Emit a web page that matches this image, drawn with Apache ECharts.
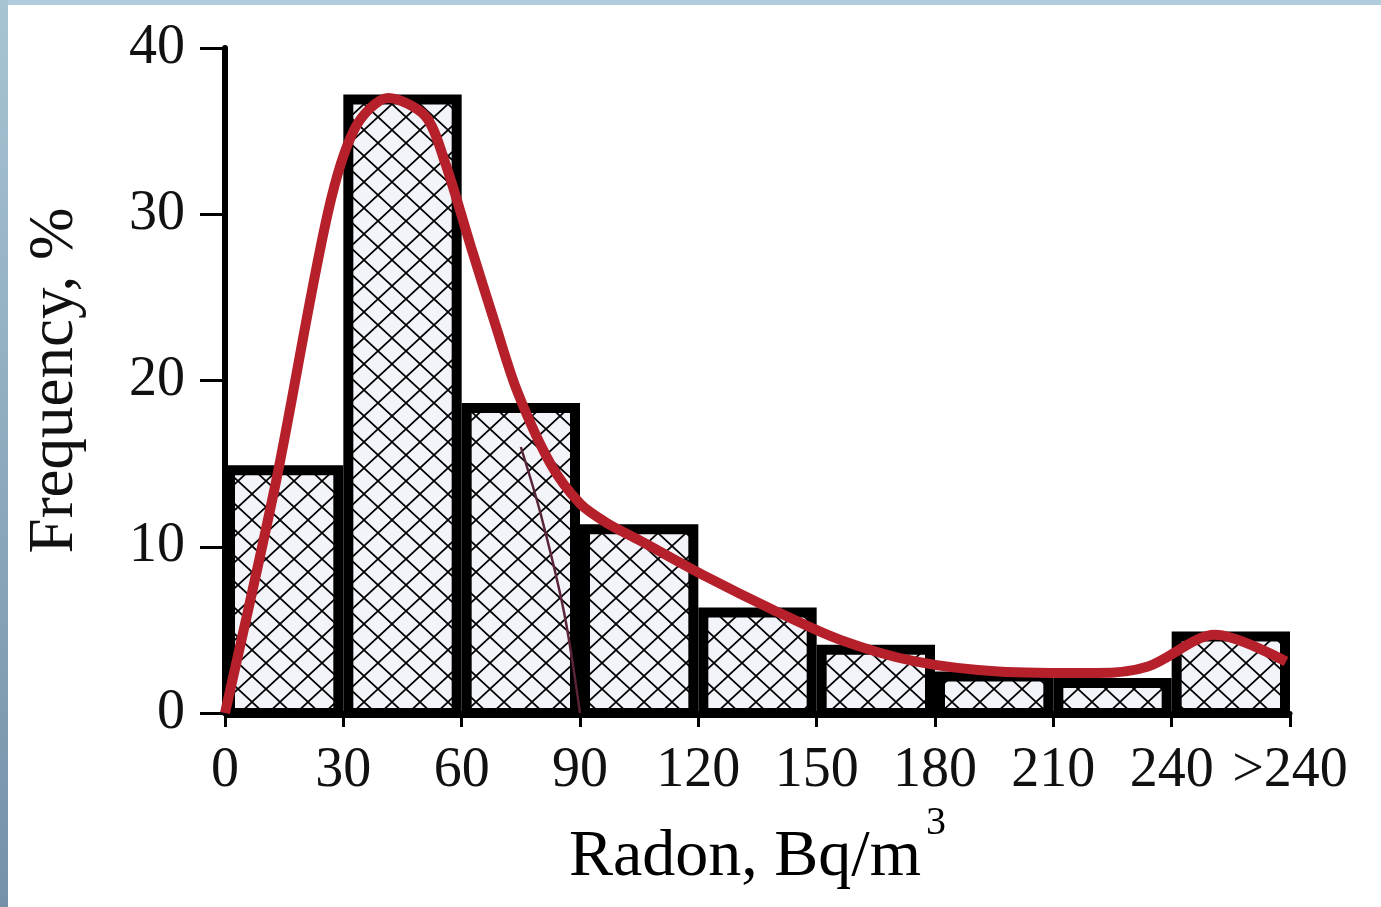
<!DOCTYPE html>
<html>
<head>
<meta charset="utf-8">
<script src="https://cdn.jsdelivr.net/npm/echarts@6/dist/echarts.min.js"></script>
<style>
html,body{margin:0;padding:0;background:#fff;}
#chart{width:1381px;height:907px;}
</style>
</head>
<body>
<div id="chart"></div>
<script>
// ---- data ----
var binStart = [0, 30, 60, 90, 120, 150, 180, 210, 240];
var binEnd   = [30, 60, 90, 120, 150, 180, 210, 240, 270];
var frequency = [14.6, 36.9, 18.35, 11.05, 6.05, 3.8, 2.2, 1.8, 4.6];
var xTickValues = [0, 30, 60, 90, 120, 150, 180, 210, 240, 270];
var xTickLabels = ['0', '30', '60', '90', '120', '150', '180', '210', '240', '>240'];
var curveX = [0, 13, 26, 33, 41.4, 50.8, 55.8, 62.4, 68.5, 74, 82.5, 90, 97, 105, 122, 139, 156, 175, 196, 221, 234, 251, 269];
var curveY = [0, 14, 30, 35.2, 37.0, 35.9, 33.1, 28, 23.4, 19.4, 15, 12.6, 11.4, 10.4, 8.2, 6.2, 4.4, 3.1, 2.5, 2.4, 2.8, 4.7, 3.1];
var thinX = [75, 80, 86, 90];
var thinY = [16, 12, 6, 0];

// ---- hatch pattern ----
var TW = 28, TH = 26;
var tile = document.createElement('canvas');
tile.width = TW; tile.height = TH;
var g = tile.getContext('2d');
g.fillStyle = '#f2f4fa';
g.fillRect(0, 0, TW, TH);
g.strokeStyle = '#000';
g.lineWidth = 1.7;
g.beginPath();
g.moveTo(0, TH); g.lineTo(TW, 0);
g.moveTo(0, 0); g.lineTo(TW, TH);
g.stroke();
var hatch = { image: tile, repeat: 'repeat' };

var barData = binStart.map(function (s, i) { return [s, binEnd[i], frequency[i]]; });
var curveData = curveX.map(function (x, i) { return [x, curveY[i]]; });
var thinData = thinX.map(function (x, i) { return [x, thinY[i]]; });
var labelMap = {};
xTickValues.forEach(function (v, i) { labelMap[v] = xTickLabels[i]; });

var chart = echarts.init(document.getElementById('chart'), null, { renderer: 'canvas' });
var serif = '"Liberation Serif", "Times New Roman", serif';

chart.setOption({
  backgroundColor: '#ffffff',
  animation: false,
  graphic: [
    { type: 'rect', left: 0, top: 0, shape: { width: 1381, height: 5 }, style: { fill: '#afcddc' }, z: 100 },
    { type: 'rect', left: 0, top: 0, shape: { width: 8, height: 907 },
      style: { fill: new echarts.graphic.LinearGradient(0, 0, 0, 1, [
        { offset: 0, color: '#a7c4d4' }, { offset: 1, color: '#7591a8' }]) }, z: 100 }
  ],
  grid: { left: 225, right: 91, top: 48, bottom: 194, containLabel: false },
  xAxis: {
    type: 'value', min: 0, max: 270, interval: 30,
    name: '{a|Radon, Bq/m}{s|3}',
    nameLocation: 'middle', nameGap: 90,
    nameTextStyle: {
      rich: {
        a: { fontFamily: serif, fontSize: 66, color: '#000', lineHeight: 108 },
        s: { fontFamily: serif, fontSize: 40, color: '#000', verticalAlign: 'top', lineHeight: 42, padding: [0, 0, 0, 5] }
      }
    },
    axisLine: { show: true, onZero: false, lineStyle: { color: '#000', width: 5 } },
    axisTick: { show: true, length: 14, lineStyle: { color: '#000', width: 3 } },
    axisLabel: {
      fontFamily: serif, fontSize: 56, color: '#111', margin: 30,
      formatter: function (v) { return labelMap[v] !== undefined ? labelMap[v] : ''; }
    },
    splitLine: { show: false }
  },
  yAxis: {
    type: 'value', min: 0, max: 40, interval: 10,
    name: 'Frequency, %', nameLocation: 'middle', nameGap: 138, nameRotate: 90,
    nameTextStyle: { fontFamily: serif, fontSize: 63, color: '#111' },
    axisLine: { show: true, lineStyle: { color: '#000', width: 6 } },
    axisTick: { show: true, length: 25, lineStyle: { color: '#000', width: 3 } },
    axisLabel: { fontFamily: serif, fontSize: 56, color: '#111', margin: 40 },
    splitLine: { show: false }
  },
  series: [
    {
      type: 'custom',
      data: barData,
      encode: { x: [0, 1], y: 2 },
      z: 2,
      renderItem: function (params, api) {
        var p0 = api.coord([api.value(0), 0]);
        var p1 = api.coord([api.value(1), api.value(2)]);
        return {
          type: 'rect',
          shape: { x: p0[0] + 5, y: p1[1], width: p1[0] - p0[0] - 10, height: p0[1] - p1[1] },
          style: { fill: hatch, stroke: '#000', lineWidth: 10 }
        };
      }
    },
    {
      type: 'line', data: thinData, smooth: 0.3, symbol: 'none', z: 3,
      lineStyle: { color: '#5a2438', width: 2.5 }
    },
    {
      type: 'line', data: curveData, smooth: 0.3, symbol: 'none', z: 4,
      lineStyle: { color: '#b5202a', width: 10 }
    }
  ]
});
</script>
</body>
</html>
